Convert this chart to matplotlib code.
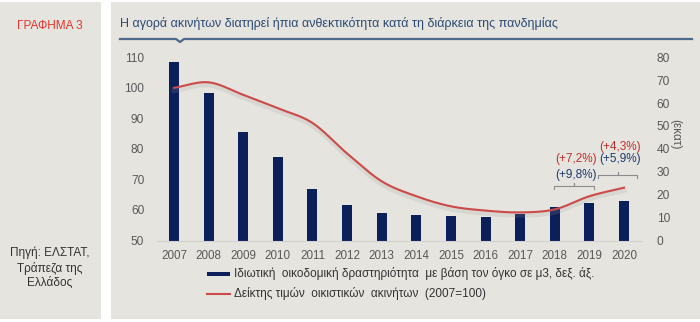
import numpy as np
import matplotlib
matplotlib.use("Agg")
import matplotlib.pyplot as plt
from matplotlib.patches import Rectangle
from matplotlib.lines import Line2D
import matplotlib.patheffects as pe

plt.rcParams['font.family'] = ['Liberation Sans', 'DejaVu Sans']

years = ["2007", "2008", "2009", "2010", "2011", "2012", "2013",
         "2014", "2015", "2016", "2017", "2018", "2019", "2020"]
# private building activity, volume in million m3 (right axis)
building_volume = [78.1, 64.3, 47.5, 36.5, 22.7, 15.6, 11.9,
                   11.0, 10.9, 10.2, 11.6, 14.8, 16.25, 17.2]
# residential property price index, 2007=100 (left axis)
price_index = [100.0, 101.8, 97.7, 93.3, 88.5, 78.5, 69.4,
               64.5, 61.2, 59.8, 59.2, 60.2, 64.5, 67.3]

left_ticks = [50, 60, 70, 80, 90, 100, 110]
right_ticks = [0, 10, 20, 30, 40, 50, 60, 70, 80]

bar_label = "Ιδιωτική  οικοδομική δραστηριότητα  με βάση τον όγκο σε μ3, δεξ. άξ."
line_label = "Δείκτης τιμών  οικιστικών  ακινήτων  (2007=100)"
title = "Η αγορά ακινήτων διατηρεί ήπια ανθεκτικότητα κατά τη διάρκεια της πανδημίας"
chart_no = "ΓΡΑΦΗΜΑ 3"
source = "Πηγή: ΕΛΣΤΑΤ,\nΤράπεζα της\nΕλλάδος"

growth_labels = [  # (text, colour, x, y) on the right axis scale
    ("(+7,2%)", "#c0302b", 11.62, 35.4),
    ("(+9,8%)", "#1f3a6e", 11.62, 28.4),
    ("(+4,3%)", "#c0302b", 12.88, 41.0),
    ("(+5,9%)", "#1f3a6e", 12.88, 35.4),
]

BG = "#e5e4df"
NAVY = "#0b1f5b"
RED = "#cc4a48"
TICK = "#595959"

W, H = 700, 322
fig = plt.figure(figsize=(W / 100, H / 100), dpi=100)
fig.patch.set_facecolor("white")

def fx(px):
    return px / W

def fy(py):
    return 1 - py / H

# background panels
fig.add_artist(Rectangle((0, fy(319)), fx(101), fy(2) - fy(319),
                         transform=fig.transFigure, facecolor=BG, edgecolor="none", zorder=0))
fig.add_artist(Rectangle((fx(111), fy(319)), fx(700 - 111), fy(2) - fy(319),
                         transform=fig.transFigure, facecolor=BG, edgecolor="none", zorder=0))

# header
fig.text(fx(50), fy(26), chart_no, color="#e8322c", fontsize=8.5, ha="center", va="center")
fig.text(fx(120), fy(24), title, color="#2d4a74", fontsize=9.0, ha="left", va="center")
hx = [fx(120), fx(176), fx(180), fx(184), fx(692)]
hy = [fy(39), fy(39), fy(42), fy(39), fy(39)]
fig.add_artist(Line2D(hx, hy, transform=fig.transFigure, color="#4d6a8c", lw=1.6))
fig.text(fx(50), fy(268), source, color="#333333", fontsize=8.5, ha="center", va="center",
         linespacing=1.25)

# axes: bars on the right scale
ax = fig.add_axes([fx(156.7), fy(240.5), fx(641.3 - 156.7), fy(57.3) - fy(240.5)])
ax.set_facecolor("none")
x = np.arange(len(years))
ax.bar(x, building_volume, width=0.29, color=NAVY, zorder=2)
ax.set_xlim(-0.5, len(years) - 0.5)
ax.set_ylim(0, 80)
ax.set_xticks(x)
ax.set_xticklabels(years)
for s in ["top", "left", "right"]:
    ax.spines[s].set_visible(False)
ax.spines["bottom"].set_color("#d0d0cc")
ax.spines["bottom"].set_linewidth(0.8)
ax.text(1.07, 0.58, "(εκατ)", transform=ax.transAxes, rotation=270,
        ha="center", va="center", fontsize=8.5, color=TICK)

for txt, col, tx, ty in growth_labels:
    ax.text(tx, ty, txt, color=col, fontsize=8.5, ha="center", va="center")

def bracket(x0, x1, y):
    xm = (x0 + x1) / 2
    xs = [x0, x0, xm, xm, xm, x1, x1]
    ys = [y - 1.4, y, y, y + 1.4, y, y, y - 1.4]
    ax.plot(xs, ys, color="#8c8c8c", lw=0.8, zorder=3)

bracket(10.98, 12.14, 23.7)
bracket(12.25, 13.38, 28.5)

# smoothed price index on the left scale
ax2 = ax.twinx()
ax2.set_ylim(50, 110)
ax2.set_yticks(left_ticks)
for s in ax2.spines.values():
    s.set_visible(False)

ax.set_yticks(right_ticks)
ax.yaxis.set_ticks_position("right")
ax.yaxis.set_label_position("right")
ax.tick_params(axis="both", length=0, colors=TICK)
ax.tick_params(axis="y", pad=11, labelsize=8.6, labelleft=False, labelright=True)
ax.tick_params(axis="x", pad=7, labelsize=8.4)
ax2.yaxis.set_ticks_position("left")
ax2.tick_params(axis="y", length=0, labelsize=8.6, colors=TICK, pad=9,
                labelleft=True, labelright=False)

def catmull_rom(xp, yp, n=30):
    xp = np.asarray(xp, float)
    yp = np.asarray(yp, float)
    px = np.concatenate([[2 * xp[0] - xp[1]], xp, [2 * xp[-1] - xp[-2]]])
    py = np.concatenate([[2 * yp[0] - yp[1]], yp, [2 * yp[-1] - yp[-2]]])
    ox, oy = [], []
    t = np.linspace(0, 1, n, endpoint=False)
    for i in range(1, len(px) - 2):
        for arr, out in ((px, ox), (py, oy)):
            p0, p1, p2, p3 = arr[i - 1], arr[i], arr[i + 1], arr[i + 2]
            out.extend(0.5 * ((2 * p1) + (-p0 + p2) * t
                              + (2 * p0 - 5 * p1 + 4 * p2 - p3) * t ** 2
                              + (-p0 + 3 * p1 - 3 * p2 + p3) * t ** 3))
    ox.append(xp[-1])
    oy.append(yp[-1])
    return np.array(ox), np.array(oy)

sx, sy = catmull_rom(x, price_index)
ax2.plot(sx, sy, color=RED, lw=1.5, zorder=4,
         path_effects=[pe.SimpleLineShadow(offset=(0, -2), shadow_color="#9a9a96",
                                           alpha=0.18, linewidth=3.5),
                       pe.Normal()])

# legend
lax = fig.add_axes([0, 0, 1, 1], facecolor="none")
lax.set_axis_off()
lax.set_xlim(0, W)
lax.set_ylim(H, 0)
lax.add_patch(Rectangle((207, 272), 23, 4, facecolor=NAVY, edgecolor="none"))
lax.plot([207, 230], [294, 294], color=RED, lw=1.5)
lax.text(234, 274, bar_label, fontsize=8.5, color="#333333", va="center", ha="left")
lax.text(234, 294, line_label, fontsize=8.5, color="#333333", va="center", ha="left")

fig.savefig("out.png", dpi=100, facecolor="white")
